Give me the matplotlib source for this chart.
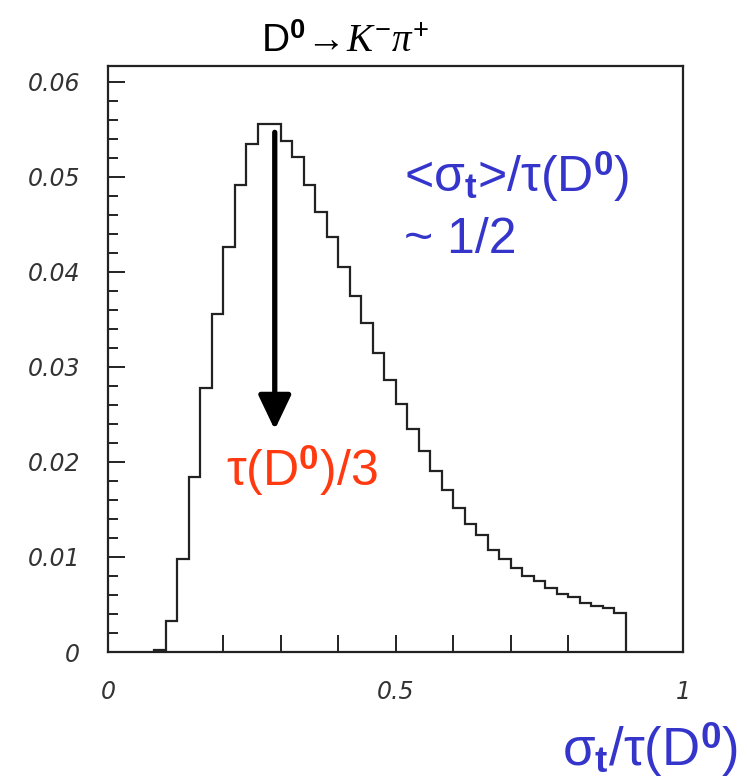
import matplotlib
matplotlib.use("Agg")
import matplotlib.pyplot as plt
import numpy as np
from matplotlib.ticker import MultipleLocator, FixedLocator

plt.rcParams['mathtext.fontset'] = 'custom'
plt.rcParams['mathtext.rm'] = 'Liberation Sans'
plt.rcParams['mathtext.bf'] = 'Liberation Sans:bold'
plt.rcParams['mathtext.it'] = 'Liberation Serif:italic'
plt.rcParams['mathtext.sf'] = 'Liberation Sans'

# histogram data: sigma_t / tau(D0), bins of 0.02 from 0.08 to 0.90
bin_lo = 0.08
bin_hi = 0.90
bin_w = 0.02
counts = [0.0002, 0.0033, 0.0098, 0.0184, 0.0278, 0.0356, 0.0426, 0.0492,
          0.0535, 0.0556, 0.0556, 0.0538, 0.0521, 0.0492, 0.0463, 0.0437,
          0.0405, 0.0375, 0.0346, 0.0315, 0.0286, 0.0261, 0.0235, 0.0212,
          0.0191, 0.0171, 0.0152, 0.0135, 0.0123, 0.0107, 0.0098, 0.0088,
          0.0080, 0.0075, 0.0067, 0.0061, 0.0058, 0.0052, 0.0048, 0.0046,
          0.0041]
edges = np.round(np.arange(bin_lo, bin_hi + bin_w / 2, bin_w), 4)

ytick_vals = [0, 0.01, 0.02, 0.03, 0.04, 0.05, 0.06]
ytick_labels = ['0', '0.01', '0.02', '0.03', '0.04', '0.05', '0.06']
xtick_vals = [0, 0.5, 1]
xtick_labels = ['0', '0.5', '1']

arrow_x = 0.29
arrow_y_start = 0.0547
arrow_y_end = 0.0234

W, H = 747, 778
fig = plt.figure(figsize=(W / 100, H / 100), dpi=100)
ax = fig.add_axes([108 / W, (H - 652) / H, 575 / W, 586 / H])

ax.stairs(counts, edges, color='#222222', lw=1.6)

ax.set_xlim(0, 1)
ax.set_ylim(0, 0.06168)

for s in ax.spines.values():
    s.set_linewidth(1.6)
    s.set_color('#222222')

ax.set_xticks(xtick_vals)
ax.set_xticklabels(xtick_labels)
ax.xaxis.set_minor_locator(MultipleLocator(0.1))
ax.set_yticks(ytick_vals)
ax.set_yticklabels(ytick_labels)
ax.yaxis.set_minor_locator(MultipleLocator(0.002))

ax.tick_params(axis='x', which='both', direction='in', length=12, width=1.4,
               color='#222222', pad=20)
ax.tick_params(axis='y', which='major', direction='in', length=12, width=1.4,
               color='#222222', pad=20)
ax.tick_params(axis='y', which='minor', direction='in', length=7, width=1.4,
               color='#222222')
for lab in ax.get_xticklabels() + ax.get_yticklabels():
    lab.set_fontfamily('DejaVu Sans')
    lab.set_fontstyle('italic')
    lab.set_fontsize(17)
    lab.set_color('#333333')
    lab.set_fontweight('light')

# arrow
ax.annotate('', xy=(arrow_x, arrow_y_end), xytext=(arrow_x, arrow_y_start),
            arrowprops=dict(arrowstyle='-|>,head_length=1.05,head_width=0.5',
                            mutation_scale=20, lw=3.8, color='black',
                            shrinkA=0, shrinkB=0))

red = '#FF3A10'
blue = '#3535CC'
fs = 36

fig.text(302 / W, 1 - 470 / H, r'τ(D$^{\mathbf{0}}$)/3', color=red, fontsize=fs,
         family='Liberation Sans', ha='center', va='center')

fig.text(404 / W, 1 - 176 / H, r'<σ$_{\mathbf{t}}$>/τ(D$^{\mathbf{0}}$)', color=blue,
         fontsize=fs, family='Liberation Sans', ha='left', va='center')
fig.text(404 / W, 1 - 240 / H, '~ 1/2', color=blue,
         fontsize=fs, family='Liberation Sans', ha='left', va='center')

fig.text(738 / W, 1 - 750 / H, r'σ$_{\mathbf{t}}$/τ(D$^{\mathbf{0}}$)', color=blue,
         fontsize=38, family='Liberation Sans', ha='right', va='center')

fig.text(345 / W, 1 - 42 / H, r'D$^{\mathbf{0}}$$\!\rightarrow\!$$K^{-}\pi^{+}$',
         color='black', fontsize=28, family='Liberation Sans',
         ha='center', va='center')

fig.savefig('out.png', dpi=100)
